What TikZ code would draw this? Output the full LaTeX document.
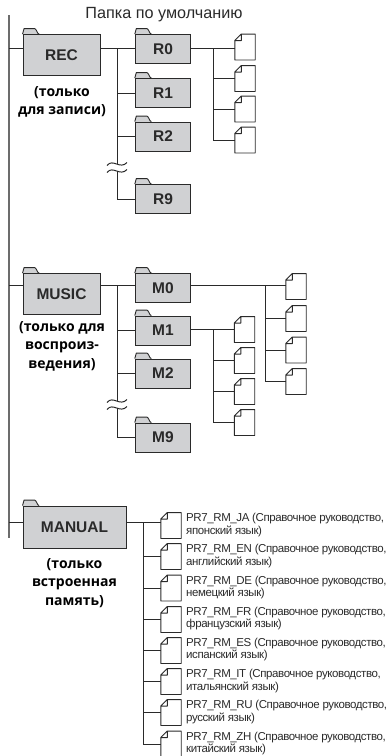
\documentclass[tikz,border=0pt]{standalone}
\usepackage{fontspec}
\setmainfont{Liberation Sans}
\newfontfamily\boldnote{Open Sans}
\newfontfamily\tightfont{Liberation Sans}[LetterSpace=-3.5]
\definecolor{foldergray}{HTML}{D0D1D3}
\definecolor{linegray}{HTML}{2A2A2A}
\usetikzlibrary{positioning}
\tikzset{
  folder/.style={draw=linegray, fill=foldergray, line width=0.9pt, inner sep=0pt,
    font=\fontsize{15.5}{18}\selectfont\bfseries, text=linegray,
    append after command={
      \pgfextra{
        \fill[foldergray] ([yshift=-1pt]\tikzlastnode.north west) -- ++(0,1pt) -- ++(1.5,-5.5) -- ++(10.5,0)
          .. controls +(2,0) and +(-2,0) .. ++(4.5,5.5) -- ++(0,1) -- cycle;
        \draw[linegray, line width=0.9pt, line join=round]
          (\tikzlastnode.north west) -- ++(1.5,-5.5) -- ++(10.5,0)
          .. controls +(2,0) and +(-2,0) .. ++(4.5,5.5);}}},
  subfolder/.style={folder, minimum width=55.5pt, minimum height=29pt},
  docfile/.style={inner sep=0pt, minimum width=20pt, minimum height=25.5pt,
    draw=none,
    append after command={
      \pgfextra{\draw[linegray, line width=0.9pt, line join=round]
        ([xshift=6.5pt]\tikzlastnode.north west) -- (\tikzlastnode.north east)
        -- (\tikzlastnode.south east) -- (\tikzlastnode.south west)
        -- ([yshift=-6.5pt]\tikzlastnode.north west) -- cycle
        ([xshift=6.5pt]\tikzlastnode.north west) -- ++(0,6.5)
        -- ([yshift=-6.5pt]\tikzlastnode.north west);}}},
  filenote/.style={anchor=west, align=left, inner sep=0pt, text=linegray,
    font=\tightfont\fontsize{11.5}{12.7}\selectfont},
  modenote/.style={align=center, font=\boldnote\bfseries\fontsize{14}{18.5}\selectfont, text=black},
  tree/.style={draw=linegray, line width=0.8pt},
  breakmark/.pic={
    \draw[tree, line width=1pt] (-10,1.5) .. controls (-4,-6) and (3,6) .. (10,-1.5);}
}
\begin{document}
\begin{tikzpicture}[x=1pt, y=-1pt]
  \useasboundingbox (0,0) rectangle (388,756);

  % Ствол
  \coordinate (trunktop) at (9,15);
  \coordinate (trunkend) at (9,538);
  \node[font=\fontsize{16.2}{18}\selectfont, text=linegray] (title) at (164,15) {Папка по умолчанию};

  % REC
  \node[folder, minimum width=77pt, minimum height=41pt] (rec) at (61.5,55) {REC};
  \node[modenote] (recnote) at (62,102) {(только\\для записи)};
  \node[subfolder] (r0) at (163,49) {R0};
  \node[subfolder] (r1) at (163,93) {R1};
  \node[subfolder] (r2) at (163,136.5) {R2};
  \node[subfolder] (r9) at (163,199) {R9};
  \node[docfile] (rf0) at (245,47) {};
  \node[docfile] (rf1) at (245,78.5) {};
  \node[docfile] (rf2) at (245,109) {};
  \node[docfile] (rf3) at (245,140) {};

  % MUSIC
  \node[folder, minimum width=77pt, minimum height=41pt] (music) at (61.5,294) {MUSIC};
  \node[modenote] (musicnote) at (62,346) {(только для\\воспроиз-\\ведения)};
  \node[subfolder] (m0) at (163,288) {M0};
  \node[subfolder] (m1) at (163,330.5) {M1};
  \node[subfolder] (m2) at (163,373.5) {M2};
  \node[subfolder] (m9) at (163,437.5) {M9};
  \node[docfile] (mf0) at (296,286.5) {};
  \node[docfile] (mf1) at (296,318.5) {};
  \node[docfile] (mf2) at (296,350) {};
  \node[docfile] (mf3) at (296,381.5) {};
  \node[docfile] (nf0) at (244.5,329.5) {};
  \node[docfile] (nf1) at (244.5,360.5) {};
  \node[docfile] (nf2) at (244.5,391.5) {};
  \node[docfile] (nf3) at (244.5,422.5) {};

  % MANUAL
  \node[folder, minimum width=103pt, minimum height=42pt] (manual) at (74.5,527) {MANUAL};
  \node[modenote] (manualnote) at (74.5,583) {(только\\встроенная\\память)};
  \node[docfile] (pf0) at (171,525.5) {};
  \node[docfile] (pf1) at (171,556.5) {};
  \node[docfile] (pf2) at (171,588) {};
  \node[docfile] (pf3) at (171,619.5) {};
  \node[docfile] (pf4) at (171,650.5) {};
  \node[docfile] (pf5) at (171,681.5) {};
  \node[docfile] (pf6) at (171,712.5) {};
  \node[docfile] (pf7) at (171,744) {};
  \node[filenote] (pt0) at (186,525) {PR7\_RM\_JA (Справочное руководство,\\японский язык)};
  \node[filenote] (pt1) at (186,556) {PR7\_RM\_EN (Справочное руководство,\\английский язык)};
  \node[filenote] (pt2) at (186,587.5) {PR7\_RM\_DE (Справочное руководство,\\немецкий язык)};
  \node[filenote] (pt3) at (186,618.5) {PR7\_RM\_FR (Справочное руководство,\\французский язык)};
  \node[filenote] (pt4) at (186,649.5) {PR7\_RM\_ES (Справочное руководство,\\испанский язык)};
  \node[filenote] (pt5) at (186,681) {PR7\_RM\_IT (Справочное руководство,\\итальянский язык)};
  \node[filenote] (pt6) at (186,712) {PR7\_RM\_RU (Справочное руководство,\\русский язык)};
  \node[filenote] (pt7) at (186,743.5) {PR7\_RM\_ZH (Справочное руководство,\\китайский язык)};

  % Ствол и ответвления
  \draw[tree, line width=1.2pt, draw=gray!85!black] (trunktop) -- (trunkend);
  \coordinate (recline) at (117,48);
  \coordinate (musicline) at (117,285);
  \coordinate (manualline) at (143,522);
  \draw[tree] (trunktop |- recline) -- (rec.west |- recline);
  \draw[tree] (trunktop |- musicline) -- (music.west |- musicline);
  \draw[tree] (trunktop |- manualline) -- (manual.west |- manualline);

  % Ветви REC
  \coordinate (rcut) at (117,164);
  \coordinate (rcutb) at (117,171);
  \draw[tree] (rec.east |- recline) -- (r0.west |- recline);
  \draw[tree] (recline) -- (rcut);
  \draw[tree] (rcutb) |- (r9.west);
  \draw[tree] (recline |- r1.west) -- (r1.west);
  \draw[tree] (recline |- r2.west) -- (r2.west);
  \pic at (rcut) {breakmark};
  \pic at (rcutb) {breakmark};
  \coordinate (rfline) at (213,48);
  \draw[tree] (r0.east |- rfline) -- (rf0.west |- rfline);
  \draw[tree] (rfline) |- (rf3.west);
  \draw[tree] (rfline |- rf1.west) -- (rf1.west);
  \draw[tree] (rfline |- rf2.west) -- (rf2.west);

  % Ветви MUSIC
  \coordinate (mcut) at (117,401);
  \coordinate (mcutb) at (117,408);
  \draw[tree] (music.east |- musicline) -- (m0.west |- musicline);
  \draw[tree] (musicline) -- (mcut);
  \draw[tree] (mcutb) |- (m9.west);
  \draw[tree] (musicline |- m1.west) -- (m1.west);
  \draw[tree] (musicline |- m2.west) -- (m2.west);
  \pic at (mcut) {breakmark};
  \pic at (mcutb) {breakmark};
  \coordinate (mfline) at (265,285);
  \draw[tree] (m0.east |- mfline) -- (mf0.west |- mfline);
  \draw[tree] (mfline) |- (mf3.west);
  \draw[tree] (mfline |- mf1.west) -- (mf1.west);
  \draw[tree] (mfline |- mf2.west) -- (mf2.west);
  \coordinate (nfline) at (213,329);
  \draw[tree] (m1.east |- nfline) -- (nf0.west |- nfline);
  \draw[tree] (nfline) |- (nf3.west);
  \draw[tree] (nfline |- nf1.west) -- (nf1.west);
  \draw[tree] (nfline |- nf2.west) -- (nf2.west);

  % Ветви MANUAL
  \draw[tree] (manual.east |- manualline) -- (pf0.west |- manualline);
  \draw[tree] (manualline) |- (pf7.west);
  \draw[tree] (manualline |- pf1.west) -- (pf1.west);
  \draw[tree] (manualline |- pf2.west) -- (pf2.west);
  \draw[tree] (manualline |- pf3.west) -- (pf3.west);
  \draw[tree] (manualline |- pf4.west) -- (pf4.west);
  \draw[tree] (manualline |- pf5.west) -- (pf5.west);
  \draw[tree] (manualline |- pf6.west) -- (pf6.west);
\end{tikzpicture}
\end{document}
